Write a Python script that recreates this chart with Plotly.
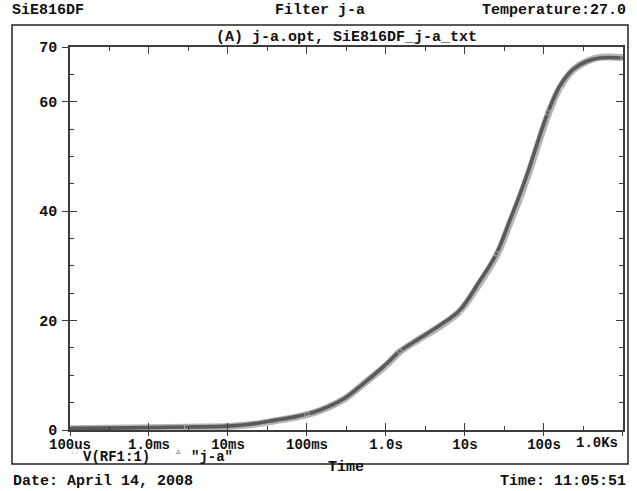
import plotly.graph_objects as go

# ---------------- data ----------------
time_s = [1e-4, 3e-4, 1e-3, 3e-3, 1e-2, 2e-2, 4e-2, 7e-2, 0.1, 0.15, 0.3, 0.5,
          1.0, 1.5, 2.5, 5.0, 8.6, 15, 25, 37, 50, 66, 85, 112, 158, 234, 350, 510, 1000]
v_rf1 = [0.3, 0.35, 0.45, 0.55, 0.7, 1.1, 1.8, 2.4, 2.9, 3.7, 5.8, 8.3,
         12.0, 14.4, 16.5, 19.3, 21.9, 27.0, 32.2, 38.3, 43.2, 48.1, 53.0, 58.0, 62.8, 65.9, 67.4, 68.0, 68.0]
v_ja = [0.25, 0.3, 0.4, 0.5, 0.65, 1.0, 1.7, 2.3, 2.8, 3.6, 5.7, 8.2,
        11.8, 14.3, 16.4, 19.1, 21.7, 26.6, 31.8, 37.8, 42.6, 47.5, 52.4, 57.5, 62.5, 65.8, 67.4, 68.1, 68.1]

x_major = [1e-4, 1e-3, 1e-2, 1e-1, 1, 10, 100, 1000]
x_labels = ["100us", "1.0ms", "10ms", "100ms", "1.0s", "10s", "100s", "1.0Ks"]
x_minor = [3.16e-4, 3.16e-3, 3.16e-2, 3.16e-1, 3.16, 31.6, 316]
y_major = [0, 20, 40, 60, 70]
y_labels = ["0", "20", "40", "60", "70"]
y_minor = [5, 10, 15, 25, 30, 35, 45, 50, 55, 65]

name1 = "V(RF1:1)"
name2 = '"j-a"'
header_left = "SiE816DF"
header_center = "Filter j-a"
header_right = "Temperature:27.0"
subtitle = "(A) j-a.opt, SiE816DF_j-a_txt"
x_title = "Time"
footer_left = "Date: April 14, 2008"
footer_right = "Time: 11:05:51"

# ---------------- layout geometry (pixels) ----------------
W, H = 637, 491
L, R, T, B = 70, 14, 47, 61
PW, PH = W - L - R, H - T - B

def px(xp):
    return (xp - L) / PW

def py(yp):
    return (H - B - yp) / PH

FONT = "Liberation Mono"
fnt = dict(family=FONT, size=15, color="#111111", weight="bold")
tfnt = dict(family=FONT, size=14, color="#111111", weight="bold")
axcol = "#3c3c3c"

fig = go.Figure()
fig.add_trace(go.Scatter(
    x=time_s, y=v_ja, name=name2, mode="lines+markers",
    line=dict(color="#b4b4b4", width=7, shape="spline", smoothing=1.0),
    marker=dict(symbol="triangle-up-open", size=5, color="#d4d4d4", maxdisplayed=8),
    showlegend=False))
fig.add_trace(go.Scatter(
    x=time_s, y=v_rf1, name=name1, mode="lines+markers",
    line=dict(color="#5a5a5a", width=3.6, shape="spline", smoothing=1.0),
    marker=dict(symbol="square-open", size=4, color="#a8a8a8", maxdisplayed=7),
    showlegend=False))
# empty trace to activate the overlay axes (outer tick halves)
fig.add_trace(go.Scatter(x=[], y=[], xaxis="x2", yaxis="y2", showlegend=False))

common_x = dict(type="log", range=[-4, 3.0005], automargin=False)
common_y = dict(range=[0, 70], automargin=False)

# the last x label is shifted left to stay inside the frame (as in the reference)
shown_x_labels = x_labels[:-1] + [""]

fig.update_layout(
    template="none",
    width=W, height=H,
    margin=dict(l=L, r=R, t=T, b=B, autoexpand=False),
    paper_bgcolor="white", plot_bgcolor="white",
    font=fnt,
    xaxis=dict(**common_x, showgrid=False, zeroline=False,
               showline=True, linecolor=axcol, linewidth=1.5, mirror="ticks",
               ticks="inside", ticklen=7, tickwidth=1.3, tickcolor=axcol,
               tickmode="array", tickvals=x_major, ticktext=shown_x_labels,
               tickfont=tfnt, ticklabelstandoff=0,
               minor=dict(ticks="inside", ticklen=4, tickwidth=1.2, tickcolor=axcol,
                          tickmode="array", tickvals=x_minor)),
    yaxis=dict(**common_y, showgrid=False, zeroline=False,
               showline=True, linecolor=axcol, linewidth=1.5, mirror="ticks",
               ticks="inside", ticklen=7, tickwidth=1.3, tickcolor=axcol,
               tickmode="array", tickvals=y_major, ticktext=y_labels,
               tickfont=fnt, ticklabelstandoff=8,
               minor=dict(ticks="inside", ticklen=4, tickwidth=1.2, tickcolor=axcol,
                          tickmode="array", tickvals=y_minor)),
    xaxis2=dict(**common_x, overlaying="x", anchor="y", side="bottom",
                showgrid=False, zeroline=False, showline=False,
                ticks="outside", ticklen=5, tickwidth=1.3, tickcolor=axcol,
                tickmode="array", tickvals=x_major, showticklabels=False),
    yaxis2=dict(**common_y, overlaying="y", anchor="x", side="left",
                showgrid=False, zeroline=False, showline=False,
                ticks="outside", ticklen=7, tickwidth=1.3, tickcolor=axcol,
                tickmode="array", tickvals=y_major, showticklabels=False),
)

# outer frame
fig.add_shape(type="rect", xref="paper", yref="paper",
              x0=px(12), x1=px(628), y0=py(464), y1=py(25),
              line=dict(color="#222222", width=1.5), layer="above")

def txt(s, x, y, xanchor="center", size=15, color="#111111"):
    fig.add_annotation(text=s, xref="paper", yref="paper", x=px(x), y=py(y),
                       xanchor=xanchor, yanchor="middle", showarrow=False,
                       font=dict(family=FONT, size=size, color=color, weight="bold"))

txt(header_left, 10, 11, "left")
txt(header_center, 320, 11, "center")
txt(header_right, 628, 11, "right")
txt(subtitle, 346, 37, "center")
txt(x_labels[-1], 620, 443, "right", size=14)
txt(x_title, 346, 467, "center")
txt(footer_left, 11, 481, "left")
txt(footer_right, 628, 481, "right")

# legend (custom, below tick labels)
txt("\u25a1", 75, 452, "center", size=9, color="#a0a0a0")
txt(name1, 81, 457, "left", size=14)
txt("\u25b5", 178, 452, "center", size=9, color="#a0a0a0")
txt(name2, 189, 457, "left", size=14)

fig.write_html("out.html", config={"displayModeBar": False},
               post_script="document.body.style.margin='0';document.body.style.overflow='hidden';")
